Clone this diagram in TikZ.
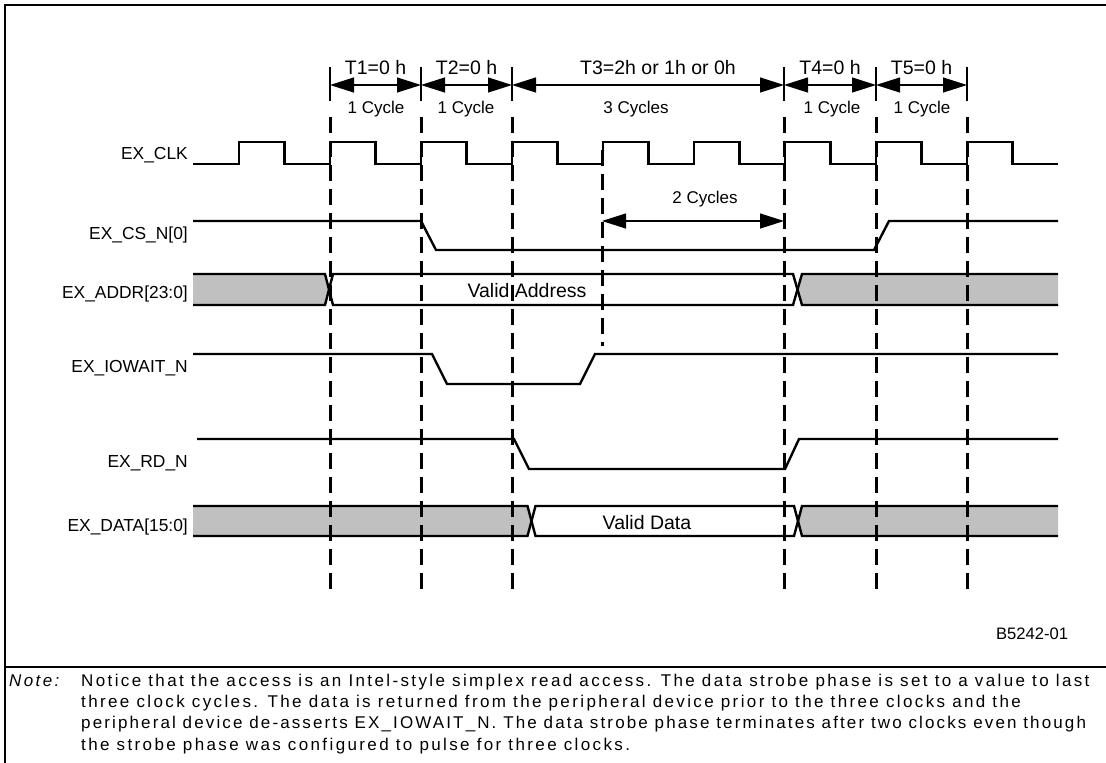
\documentclass[tikz,border=0pt]{standalone}
\usepackage{fontspec}
\setmainfont{Liberation Sans}
\newfontfamily\notefont[LetterSpace=14]{Liberation Sans}
\newfontfamily\notefontnarrow[LetterSpace=12.5]{Liberation Sans}
\usetikzlibrary{arrows.meta,positioning}
\definecolor{busgrey}{RGB}{192,192,192}

\tikzset{
  sig/.style={line width=2.4pt},
  guide/.style={line width=3pt, dash pattern=on 16pt off 8pt},
  limitline/.style={line width=1.6pt},
  dim/.style={line width=1.2pt, {Triangle[length=24pt,width=15pt]}-{Triangle[length=24pt,width=15pt]}},
  siglabel/.style={anchor=base east, inner sep=0pt, font=\fontsize{17.4}{20}\selectfont},
  cyclabel/.style={anchor=base, inner sep=0pt, font=\fontsize{17}{20}\selectfont},
  tlabel/.style={anchor=base, inner sep=0pt, font=\fontsize{19.5}{22}\selectfont},
  buslabel/.style={anchor=base, inner sep=0pt, font=\fontsize{19.5}{22}\selectfont},
  noteline/.style={anchor=base west, inner sep=0pt, font=\notefont\fontsize{17}{20}\selectfont},
}

\begin{document}
\begin{tikzpicture}[x=1pt,y=-1pt]
\useasboundingbox (0,0) rectangle (1106,763);

% Cadre et séparation de la note
\draw[line width=2.6pt] (5,763) -- (5,5) -- (1106,5);
\draw[line width=2.6pt] (5,667) -- (1106,667);

% Noms des signaux
\node[siglabel] (lclk) at (188,159) {EX\_CLK};
\node[siglabel] (lcs) at (188,239) {EX\_CS\_N[0]};
\node[siglabel] (laddr) at (188,298) {EX\_ADDR[23:0]};
\node[siglabel] (lwait) at (188,372) {EX\_IOWAIT\_N};
\node[siglabel] (lrd) at (188,467.5) {EX\_RD\_N};
\node[siglabel] (ldata) at (188,531) {EX\_DATA[15:0]};

% Horloge
\draw[sig] (193,164) -- (239,164)
  \foreach \k in {0,...,8} { -- ({239+91*\k},142) -- ({284.5+91*\k},142) -- ({284.5+91*\k},164) -- ({330+91*\k},164) };

% Chip select, wait et read
\draw[sig] (193,221) -- (421,221) -- (436,250) -- (874,250) -- (889,221) -- (1058,221);
\draw[sig] (193,354) -- (432,354) -- (447,384) -- (580,384) -- (595,354) -- (1058,354);
\draw[sig] (197,439) -- (514,439) -- (529,469) -- (785,469) -- (799,439) -- (1058,439);

% Bus d'adresses
\fill[busgrey] (193,274) -- (325,274) -- (329,289.5) -- (325,305) -- (193,305) -- cycle;
\fill[busgrey] (1058,274) -- (802,274) -- (797.5,289.5) -- (802,305) -- (1058,305) -- cycle;
\draw[sig] (193,274) -- (325,274) -- (333,305) -- (793,305) -- (802,274) -- (1058,274);
\draw[sig] (193,305) -- (325,305) -- (333,274) -- (793,274) -- (802,305) -- (1058,305);
\node[buslabel] (vaddr) at (527,297) {Valid Address};

% Bus de données
\fill[busgrey] (193,506) -- (527.5,506) -- (531.5,521) -- (527.5,536) -- (193,536) -- cycle;
\fill[busgrey] (1058,506) -- (802,506) -- (798,521) -- (802,536) -- (1058,536) -- cycle;
\draw[sig] (193,506) -- (527.5,506) -- (535.5,536) -- (794,536) -- (802,506) -- (1058,506);
\draw[sig] (193,536) -- (527.5,536) -- (535.5,506) -- (794,506) -- (802,536) -- (1058,536);
\node[buslabel] (vdata) at (647,529) {Valid Data};

% Limites des phases
\foreach \x/\n in {330/1,421/2,512/3,784/4,876/5,967/6} {
  \draw[limitline] (\x,67) -- (\x,101);
  \draw[guide] (\x,117) -- (\x,589);
  \coordinate (b\n) at (\x,85);
}
\draw[guide] (602,150) -- (602,346);
\coordinate (w1) at (602,221);
\coordinate (w2) at (784,221);

% Durées des phases
\draw[dim] (b1) -- (b2);
\draw[dim] (b2) -- (b3);
\draw[dim] (b3) -- (b4);
\draw[dim] (b4) -- (b5);
\draw[dim] (b5) -- (b6);
\draw[dim] (w1) -- (w2);

\node[tlabel] (t1) at (375.5,74) {T1=0 h};
\node[tlabel] (t2) at (466.5,74) {T2=0 h};
\node[tlabel] (t3) at (658,74) {T3=2h or 1h or 0h};
\node[tlabel] (t4) at (830,74) {T4=0 h};
\node[tlabel] (t5) at (921.5,74) {T5=0 h};

\node[cyclabel] (c1) at (376,113) {1 Cycle};
\node[cyclabel] (c2) at (466,113) {1 Cycle};
\node[cyclabel] (c3) at (636,113) {3 Cycles};
\node[cyclabel] (c4) at (832,113) {1 Cycle};
\node[cyclabel] (c5) at (922,113) {1 Cycle};
\node[cyclabel] (cw) at (705,203) {2 Cycles};

% Référence de la figure
\node[cyclabel, font=\fontsize{16.6}{20}\selectfont] (ref) at (1032,639) {B5242-01};

% Note
\node[noteline] (nlab) at (9,686) {\itshape Note:};
\node[noteline] (n1) at (81,686) {Notice that the access is an Intel-style simplex read access. The data strobe phase is set to a value to last};
\node[noteline] (n2) at (81,707.3) {three clock cycles. The data is returned from the peripheral device prior to the three clocks and the};
\node[noteline, font=\notefontnarrow\fontsize{17}{20}\selectfont] (n3) at (81,728.6) {peripheral device de-asserts EX\_IOWAIT\_N. The data strobe phase terminates after two clocks even though};
\node[noteline] (n4) at (81,750) {the strobe phase was configured to pulse for three clocks.};
\end{tikzpicture}
\end{document}
